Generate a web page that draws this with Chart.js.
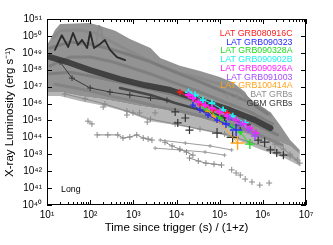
<!DOCTYPE html>
<html><head><meta charset="utf-8">
<script src="https://cdn.jsdelivr.net/npm/chart.js@4"></script>
<style>html,body{margin:0;padding:0;background:#fff}</style>
</head><body>
<canvas id="c" width="333" height="245"></canvas>
<script>
// ---- tick values ----
const xTicks = [1e1,1e2,1e3,1e4,1e5,1e6,1e7];
const yTicks = [1e40,1e41,1e42,1e43,1e44,1e45,1e46,1e47,1e48,1e49,1e50,1e51];

// ---- LAT GRBs: [time/(1+z) s, luminosity erg/s] ----
const GRB080916C = [[1.2e4,4.8e46],[3.5e4,9.3e45],[7.1e4,4.2e45],[1.0e5,3.2e45],[1.5e5,2.8e45]];
const GRB090323  = [[2.4e4,8.1e45],[3.5e4,4.2e45],[5.4e4,2.1e45],[8.7e4,1.05e45],[1.4e5,6.2e44],[2.4e5,2.7e44]];
const GRB090328A = [[4.6e4,5.4e45],[1.0e5,1.4e45],[1.9e5,4.1e44],[3.0e5,2.0e44],[5.0e5,4.0e43]];
const GRB090902B = [[1.9e4,4.8e46],[2.7e4,3.2e46],[4.1e4,1.6e46],[6.6e4,1.07e46],[1.2e5,4.2e45],[2.0e5,1.8e45],[3.9e5,7.1e44]];
const GRB090926A = [[1.9e4,3.2e46],[2.4e4,2.1e46],[3.2e4,1.2e46],[4.6e4,8.1e45],[6.6e4,5.4e45],[1.0e5,3.2e45],[1.5e5,1.8e45],[2.4e5,1.05e45],[3.6e5,6.2e44],[5.0e5,3.5e44],[6.9e5,1.8e44]];
const GRB091003  = [[1.7e5,1.4e45],[3.0e5,6.2e44],[4.6e5,2.7e44],[6.6e5,1.2e44]];
const GRB100414A = [[5.4e4,3.6e45],[7.1e4,1.8e45],[9.1e4,1.05e45],[2.6e5,4.6e43]];

// ---- GBM GRBs ----
const gbmFlare = [[15.3,1.5e49],[22,1.1e50],[31,2.2e49],[40,1.5e50],[52,2.9e49],[65,5.8e49],[85,1.9e49],[100,1.7e50],[123,1.9e49],[170,3.3e49],[219,5.8e49],[288,1.5e49],[417,5.6e48],[646,3.7e48]];
const gbmBand  = [[11.7,5.6e48],[34,2.5e48],[100,9.5e47],[490,2.8e47],[1.9e3,1.2e47],[7.1e3,6.3e46],[3.5e4,1.6e46],[1.7e5,4.2e45],[6.6e5,1.05e45],[1.5e6,3.5e44]];
const gbmBand2 = [[490,8.3e46],[2.5e3,3.2e46],[9.3e3,1.07e46],[3.5e4,4.2e45],[1.3e5,1.6e45],[5.0e5,5.4e44]];
const gbmLow   = [[20,2.9e48],[38,3.2e47],[100,8.3e46],[288,4.8e46],[830,3.2e46],[2.5e3,2.1e46],[6.0e3,1.6e46]];
const gbmLate  = [[9.3e3,3.2e45],[1.07e4,7.1e44],[1.6e4,1.4e45],[2.0e4,2.7e44],[8.7e4,1.8e44],[1.3e5,1.4e45],[2.0e5,1.0e44],[3.0e5,5.4e44],[7.8e5,6.9e43],[1.1e6,5.2e43],[1.5e6,1.8e43],[2.1e6,1.2e43],[3.0e6,8.9e42]];

// ---- BAT GRBs ----
const batUpper = [[10,2.9e49],[11.7,5.8e49],[15.3,2.2e50],[20,5.0e50],[100,5.8e50],[170,3.9e50],[380,2.0e50],[830,6.6e49],[2.5e3,1.9e49],[4.2e3,4.9e48],[1.2e4,1.7e48],[3.5e4,8.3e47],[1.0e5,3.7e47],[2.0e5,1.8e47],[3.9e5,4.8e46],[5.6e5,9.3e45],[8.5e5,5.4e45],[1.5e6,3.2e45],[2.5e6,5.4e44],[4.3e6,6.9e43],[7.2e6,1.8e43]];
const batCore  = [[10,4.8e46],[20,4.8e46],[58,2.8e46],[170,1.9e46],[490,1.2e46],[1.4e3,7.1e45],[4.2e3,4.7e45],[1.2e4,2.8e45],[3.5e4,1.4e45],[1.0e5,6.2e44],[3.0e5,2.3e44],[8.5e5,7.9e43],[2.5e6,5.2e43],[4.3e6,3.0e43],[7.2e6,1.0e43]];
const batLower = [[10,2.8e46],[20,2.8e46],[58,1.4e46],[219,7.1e45],[710,3.2e45],[2.5e3,9.1e44],[9.3e3,5.4e44],[3.5e4,2.7e44],[1.0e5,1.6e44],[3.0e5,6.0e43],[8.5e5,2.0e43],[3.2e6,6.0e42],[7.2e6,2.0e42]];
const batBand1 = [[14,7.6e49],[20,2.0e50],[58,2.2e50],[129,1.5e50],[288,5.0e49],[646,1.7e49],[1.4e3,6.5e48],[4.2e3,1.7e48],[1.2e4,6.3e47],[3.5e4,3.2e47],[1.0e5,1.4e47],[3.0e5,5.0e46],[5.6e5,1.2e46],[1.1e6,4.2e45],[1.5e6,2.1e45]];
const batBand2 = [[11.7,1.9e49],[34,4.4e49],[100,3.3e49],[288,1.7e49],[830,7.4e48],[2.5e3,2.9e48],[9.3e3,7.2e47],[3.5e4,1.9e47],[1.3e5,4.8e46],[5.0e5,1.2e46],[1.3e6,2.4e45]];
const batBand3 = [[11.7,1.7e48],[34,5.6e48],[100,5.6e48],[288,3.2e48],[830,1.4e48],[2.5e3,5.6e47],[9.3e3,1.6e47],[3.5e4,4.8e46],[1.3e5,1.2e46],[5.0e5,3.2e45],[1.7e6,6.2e44]];
const batBand4 = [[10,5.6e47],[34,7.2e47],[100,4.3e47],[288,2.5e47],[830,1.4e47],[2.5e3,7.2e46],[9.3e3,3.2e46],[3.5e4,1.07e46],[1.3e5,3.2e45],[5.0e5,8.1e44],[2.2e6,1.4e44]];
const batBand5 = [[15.3,1.4e47],[45,8.3e46],[129,4.8e46],[380,2.4e46],[1.1e3,1.4e46],[3.2e3,7.1e45],[1.2e4,3.6e45],[4.6e4,1.6e45],[1.7e5,6.2e44],[6.6e5,1.8e44],[2.8e6,3.5e43]];
const batBand6 = [[26,3.6e46],[76,1.9e46],[219,9.3e45],[710,3.6e45],[2.5e3,1.2e45],[9.3e3,6.2e44],[3.5e4,3.1e44],[1.3e5,1.6e44],[5.0e5,5.2e43],[1.9e6,1.8e43],[4.3e6,7.8e42],[7.2e6,3.0e42]];
const batSpike = [[137,2.9e49],[160,3.9e50],[178,3.0e50],[209,2.9e49]];
const batIsoA = [[89,9.1e44],[110,6.2e44]];
const batIsoB = [[145,1.4e44],[257,1.4e44],[437,1.4e44],[575,9.1e43],[830,1.05e44],[1.2e3,1.4e44],[1.7e3,9.1e43],[2.2e3,8.0e43],[2.7e3,6.9e43]];
const batIsoC = [[1.9e5,1.2e42],[2.4e5,7.8e41],[3.0e5,5.9e41],[3.9e5,3.4e41],[5.6e5,2.3e41],[8.5e5,1.5e41],[1.4e6,2.0e41]];
const batIsoD = [[2.0e4,6.0e42],[3.2e4,4.0e42],[4.8e4,3.0e42],[7.4e4,2.6e42],[1.1e5,2.3e42]];
const batIsoE = [[5.4e3,5.2e43],[7.9e3,3.1e43],[1.2e4,2.0e43],[1.7e4,1.35e43],[2.4e4,8.9e42]];
const batIsoF = [[1.5e5,3.2e46],[2.6e5,2.4e46],[4.1e5,1.9e46]];
const batIsoG = [[200,6.2e45],[710,2.1e45],[980,2.8e45],[1.4e3,2.8e45],[2.1e3,8.1e44],[3.2e3,2.8e45]];
const batTail1 = [[4.2e3,6.9e43],[1.6e4,4.6e43],[6.0e4,3.1e43],[1.9e5,1.8e43]];
const batTail2 = [[3.2e3,2.3e43],[1.2e4,1.8e43],[4.6e4,1.35e43],[1.3e5,8.9e42]];
const batTail3 = [[1.9e6,4.0e43],[3.0e6,2.0e43],[4.3e6,1.0e43],[6.3e6,4.6e42]];

// ---- legend text ----
const legendLabels = ['LAT GRB080916C','LAT GRB090323','LAT GRB090328A','LAT GRB090902B','LAT GRB090926A','LAT GRB091003','LAT GRB100414A','BAT GRBs','GBM GRBs'];
const legendColors = ['#ff1a1a','#2a2aff','#22dd22','#22f0f0','#ff22ff','#a64dff','#ffa319','#8c8c8c','#3a3a3a'];

const FONT = "'Liberation Sans', Arial, Helvetica, sans-serif";
const SUP = {'0':'⁰','1':'¹','2':'²','3':'³','4':'⁴','5':'⁵','6':'⁶','7':'⁷','8':'⁸','9':'⁹','-':'⁻'};
function powLabel(v){ const e = Math.round(Math.log10(v)); return '10' + String(e).split('').map(c=>SUP[c]).join(''); }
function pts(a){ return a.map(([x,y])=>({x,y})); }

function band(arr, color, w){
  return {data: pts(arr), showLine:true, borderColor:color, backgroundColor:color, borderWidth:w,
          pointRadius:0, borderJoinStyle:'round', borderCapStyle:'round', tension:0, fill:false};
}
function area(arr, color){
  return {data: pts(arr), showLine:true, borderWidth:0, borderColor:'rgba(0,0,0,0)', pointRadius:0,
          tension:0, fill: color ? '+1' : false, backgroundColor: color || 'rgba(0,0,0,0)'};
}
function crosses(arr, color, r, w, line){
  return {data: pts(arr), showLine:line, borderColor:color, backgroundColor:color, borderWidth:line?1:w,
          pointStyle:'cross', pointRadius:r, pointBorderWidth:w, pointBorderColor:color, tension:0, fill:false};
}

const BAT = '#8a8a8a', BATL = '#9c9c9c', GBM = '#333333';
const datasets = [
  crosses(GRB091003, legendColors[5], [3,3,3,4], 1.6, true),
  crosses(GRB090926A, legendColors[4], 3.5, 1.8, true),
  crosses(GRB080916C, legendColors[0], 3, 1.6, true),
  crosses(GRB090902B, legendColors[3], 3.5, 1.8, true),
  crosses(GRB090323, legendColors[1], [3,3,3,3,4,6], 1.4, true),
  crosses(GRB090328A, legendColors[2], [3,3,3,3,5], 1.4, true),
  crosses(GRB100414A, legendColors[6], [3,3,3,7], 1.4, true),
  crosses(gbmLate, GBM, [4,4,4,4,5,4,6,5,4,5,4,4,4], 1.2, false),
  band(gbmFlare, '#2b2b2b', 1.8),
  crosses(gbmLow, '#3a3a3a', 3, 1, true),
  band(gbmBand2, 'rgba(45,45,45,0.75)', 2.5),
  band(gbmBand, 'rgba(50,50,50,0.85)', 6),
  crosses(batIsoA, BAT, 3, 1, true),
  crosses(batIsoB, BAT, 3, 1, true),
  crosses(batIsoC, BAT, 3, 1, false),
  crosses(batIsoD, BAT, 3, 1, true),
  crosses(batIsoE, BAT, 3, 1, true),
  crosses(batIsoF, BAT, 4, 1, false),
  crosses(batIsoG, BAT, 3, 1, false),
  crosses(batTail1, BATL, 2, 1, true),
  crosses(batTail2, BATL, 2, 1, true),
  crosses(batTail3, BAT, 3, 1, true),
  band(batSpike, BAT, 2),
  crosses(batBand6, '#8a8a8a', 3, 1, true),
  band(batBand5, '#848484', 3),
  band(batBand4, '#7e7e7e', 3),
  band(batBand3, '#808080', 3),
  band(batBand2, '#7c7c7c', 3),
  band(batBand1, '#8a8a8a', 3),
  area(batUpper, '#939393'),
  area(batCore, '#b5b5b5'),
  area(batLower, null)
];

const decor = {
  id: 'decor',
  afterDatasetsDraw(chart){
    const {ctx, chartArea: a, scales: {x, y}} = chart;
    ctx.save();
    ctx.strokeStyle = '#000'; ctx.lineWidth = 1;
    ctx.strokeRect(a.left+0.5, a.top+0.5, a.right-a.left-1, a.bottom-a.top-1);
    ctx.beginPath();
    for (let d = 0; d < xTicks.length; d++) {
      const base = xTicks[d];
      for (let m = 1; m <= 9; m++) {
        const v = base*m; if (v > xTicks[xTicks.length-1]) break;
        const px = Math.round(x.getPixelForValue(v)) + 0.5;
        const len = m === 1 ? 5 : 3;
        ctx.moveTo(px, a.bottom); ctx.lineTo(px, a.bottom - len);
        ctx.moveTo(px, a.top); ctx.lineTo(px, a.top + len);
      }
    }
    for (const v of yTicks) {
      const py = Math.round(y.getPixelForValue(v)) + 0.5;
      ctx.moveTo(a.left, py); ctx.lineTo(a.left + 5, py);
      ctx.moveTo(a.right, py); ctx.lineTo(a.right - 5, py);
    }
    ctx.stroke();
    ctx.font = '8.8px ' + FONT;
    ctx.textAlign = 'right'; ctx.textBaseline = 'middle';
    legendLabels.forEach((t, i) => { ctx.fillStyle = legendColors[i]; ctx.fillText(t, 292.5, 33.5 + i*8.75); });
    ctx.textAlign = 'left'; ctx.fillStyle = '#000';
    ctx.fillText('Long', 61, 190);
    ctx.restore();
  }
};

new Chart(document.getElementById('c'), {
  type: 'scatter',
  data: { datasets },
  options: {
    responsive: false, devicePixelRatio: 1, animation: false, events: [],
    layout: { padding: { left: 0, right: 27, top: 19, bottom: 0 } },
    plugins: { legend: { display: false }, tooltip: { enabled: false } },
    scales: {
      x: {
        type: 'logarithmic', position: 'bottom', min: 1e1, max: 1e7,
        afterBuildTicks: s => { s.ticks = xTicks.map(v => ({ value: v })); },
        afterFit: s => { s.height = 40; },
        grid: { display: false, drawTicks: false }, border: { display: false },
        ticks: { callback: v => powLabel(v), autoSkip: false, maxRotation: 0, padding: 4, color: '#000', font: { family: FONT, size: 10 } },
        title: { display: true, text: 'Time since trigger (s) / (1+z)', color: '#000', font: { family: FONT, size: 11.5 }, padding: { top: 0, bottom: 10 } }
      },
      y: {
        type: 'logarithmic', position: 'left', min: 1e40, max: 1e51,
        afterBuildTicks: s => { s.ticks = yTicks.map(v => ({ value: v })); },
        afterFit: s => { s.width = 47; },
        grid: { display: false, drawTicks: false }, border: { display: false },
        ticks: { callback: v => powLabel(v), autoSkip: false, padding: 5, color: '#000', font: { family: FONT, size: 10 } },
        title: { display: true, text: 'X-ray Luminosity (erg s⁻¹)', color: '#000', font: { family: FONT, size: 11.5 }, padding: { top: 3, bottom: 0 } }
      }
    }
  },
  plugins: [decor]
});
</script>
</body></html>
